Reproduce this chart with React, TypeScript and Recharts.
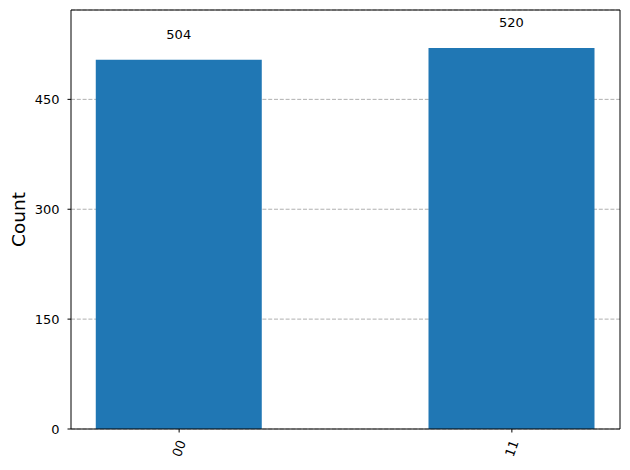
import React from 'react';
import { BarChart, Bar, XAxis, YAxis, CartesianGrid, LabelList, ReferenceLine } from 'recharts';

const categories = ['00', '11'];
const counts = [504, 520];
const yTicks = [0, 150, 300, 450];
const xPositions = [0, 1];

const data = categories.map((c, i) => ({ x: xPositions[i], label: c, count: counts[i] }));

const FONT = 'DejaVu Sans, sans-serif';

const XTick = (props: any) => {
  const { x, y, payload } = props;
  const label = categories[payload.value] ?? '';
  const cy = y + 16;
  return (
    <text
      x={x}
      y={cy}
      textAnchor="middle"
      dominantBaseline="central"
      transform={`rotate(-70, ${x}, ${cy})`}
      fontFamily={FONT}
      fontSize={13}
      fill="#000"
    >
      {label}
    </text>
  );
};

export default function App() {
  return (
    <div style={{ position: 'absolute', left: 0, top: 0, background: '#fff' }}>
      <BarChart
        width={630}
        height={470}
        data={data}
        margin={{ top: 10, right: 10, bottom: 0, left: 0 }}
      >
        <CartesianGrid
          horizontal={true}
          vertical={false}
          stroke="#b0b0b0"
          strokeDasharray="4 1.8"
          strokeWidth={1}
        />
        <XAxis
          dataKey="x"
          type="number"
          domain={[-0.325, 1.325]}
          ticks={xPositions}
          height={41}
          tickSize={3.5}
          tickMargin={0}
          tick={<XTick />}
          axisLine={{ stroke: '#000', strokeWidth: 1 }}
          tickLine={{ stroke: '#000', strokeWidth: 1 }}
          allowDataOverflow
        />
        <YAxis
          type="number"
          domain={[0, 572]}
          ticks={yTicks}
          width={71}
          tickSize={3.5}
          tickMargin={8}
          axisLine={{ stroke: '#000', strokeWidth: 1 }}
          tickLine={{ stroke: '#000', strokeWidth: 1 }}
          tick={{ fill: '#000', fontSize: 13, fontFamily: FONT }}
          allowDataOverflow
          label={{
            value: 'Count',
            angle: -90,
            position: 'insideLeft',
            offset: 18,
            style: { textAnchor: 'middle', fontSize: 18.5, fontFamily: FONT, fill: '#000' },
          }}
        />
        <ReferenceLine y={572} stroke="#000" strokeWidth={1} />
        <ReferenceLine x={1.325} stroke="#000" strokeWidth={1} />
        <Bar dataKey="count" fill="#2077b4" barSize={166} isAnimationActive={false}>
          <LabelList
            dataKey="count"
            position="top"
            offset={21}
            style={{ fontSize: 13, fontFamily: FONT, fill: '#000' }}
          />
        </Bar>
      </BarChart>
    </div>
  );
}
